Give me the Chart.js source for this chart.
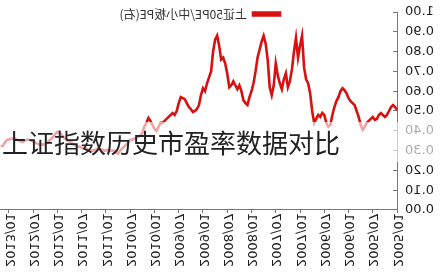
<!DOCTYPE html>
<html>
<head>
<meta charset="utf-8">
<script src="https://cdn.jsdelivr.net/npm/chart.js@4.4.0/dist/chart.umd.min.js"></script>
<style>
  html, body { margin: 0; padding: 0; background: #fff; }
  #wrap { position: relative; width: 446px; height: 273px; overflow: hidden; }
  /* the reference picture is a mirrored copy of the chart */
  #c { display: block; transform: scaleX(-1); }
  #band { position: absolute; left: 0; top: 122px; width: 446px; height: 40px; background: rgba(255,255,255,0.62); }
  #title { position: absolute; left: 2px; top: 122px; height: 40px; line-height: 40px;
           font-family: "Noto Sans CJK SC"; font-size: 26px; color: #222; white-space: nowrap; }
</style>
</head>
<body>
<div id="wrap">
  <canvas id="c" width="446" height="273"></canvas>
  <div id="band"></div>
  <div id="title">上证指数历史市盈率数据对比</div>
</div>
<script>
// 上证50PE/中小板PE, one value every half month from 2005/01
const peRatio = [
  0.505, 0.52, 0.53, 0.52, 0.50, 0.48, 0.47, 0.48, 0.49, 0.48,
  0.46, 0.455, 0.47, 0.46, 0.45, 0.44, 0.42, 0.405, 0.43, 0.47,
  0.50, 0.53, 0.54, 0.55, 0.565, 0.59, 0.605, 0.615, 0.60, 0.57,
  0.55, 0.52, 0.48, 0.43, 0.42, 0.44, 0.48, 0.49, 0.47, 0.48,
  0.46, 0.44, 0.50, 0.59, 0.64, 0.66, 0.72, 0.88, 0.83, 0.77,
  0.87, 0.80, 0.71, 0.65, 0.62, 0.69, 0.66, 0.61, 0.64, 0.68,
  0.74, 0.63, 0.58, 0.62, 0.76, 0.84, 0.88, 0.85, 0.81, 0.77,
  0.70, 0.64, 0.60, 0.57, 0.53, 0.54, 0.555, 0.60, 0.63, 0.61,
  0.63, 0.65, 0.63, 0.62, 0.69, 0.74, 0.77, 0.76, 0.83, 0.88,
  0.86, 0.80, 0.70, 0.67, 0.64, 0.60, 0.615, 0.58, 0.53, 0.51,
  0.50, 0.495, 0.51, 0.52, 0.54, 0.56, 0.565, 0.57, 0.54, 0.50,
  0.48, 0.49, 0.48, 0.47, 0.46, 0.45, 0.44, 0.44, 0.42, 0.40,
  0.41, 0.43, 0.45, 0.465, 0.44, 0.42, 0.39, 0.375, 0.37, 0.365,
  0.36, 0.355, 0.355, 0.34, 0.33, 0.32, 0.31, 0.30, 0.285, 0.29,
  0.30, 0.30, 0.30, 0.305, 0.30, 0.30, 0.305, 0.31, 0.31, 0.305,
  0.30, 0.30, 0.30, 0.305, 0.31, 0.31, 0.315, 0.32, 0.32, 0.325,
  0.33, 0.34, 0.345, 0.35, 0.36, 0.37, 0.38, 0.39, 0.395, 0.385,
  0.37, 0.36, 0.35, 0.34, 0.335, 0.33, 0.33, 0.33, 0.335, 0.34,
  0.345, 0.35, 0.355, 0.355, 0.35, 0.345, 0.345, 0.35, 0.355, 0.36,
  0.36, 0.36, 0.355, 0.355, 0.34, 0.325, 0.32
];

// x ticks, in months after 2005/01
const xTickMonths = [0, 6, 12, 18, 24, 30, 36, 42, 48, 54, 60, 66, 72, 78, 84, 90, 96];
const xTickLabels = ["2005/01", "2005/07", "2006/01", "2006/07", "2007/01", "2007/07",
  "2008/01", "2008/07", "2009/01", "2009/07", "2010/01", "2010/07", "2011/01",
  "2011/07", "2012/01", "2012/07", "2013/01"];

const seriesName = "上证50PE/中小板PE(右)";

const points = peRatio.map((v, i) => ({ x: i / 2, y: v }));

// legend sits inside the plot near the top, put it where the original has it
const placeLegend = {
  id: "placeLegend",
  afterLayout(chart) {
    const lg = chart.legend;
    const w = lg.right - lg.left, h = lg.bottom - lg.top;
    lg.left = 156; lg.right = 156 + w;
    lg.top = -2; lg.bottom = -2 + h;
  }
};

const tickFont = { family: "'DejaVu Sans'", size: 13 };

new Chart(document.getElementById("c"), {
  type: "line",
  data: {
    datasets: [{
      label: seriesName,
      data: points,
      borderColor: "#d81010",
      backgroundColor: "#d81010",
      borderWidth: 2.6,
      pointRadius: 0,
      tension: 0,
      fill: false
    }]
  },
  options: {
    responsive: false,
    animation: false,
    devicePixelRatio: 1,
    layout: { padding: { left: 0, right: 0, top: 12, bottom: 6 } },
    plugins: {
      legend: {
        position: "chartArea",
        align: "start",
        labels: {
          boxWidth: 27,
          boxHeight: 3,
          padding: 10,
          color: "#333",
          font: { family: "'Noto Sans CJK SC'", size: 12 }
        }
      },
      tooltip: { enabled: false }
    },
    scales: {
      x: {
        type: "linear",
        min: 0,
        max: 98.2,
        afterBuildTicks: (s) => { s.ticks = xTickMonths.map((v) => ({ value: v })); },
        afterFit: (s) => { s.paddingRight = 0; },
        grid: { drawOnChartArea: false, tickLength: 3, color: "#777" },
        border: { color: "#777" },
        ticks: {
          autoSkip: false,
          minRotation: 90,
          maxRotation: 90,
          padding: 0,
          color: "#222",
          font: tickFont,
          callback: (v, i) => xTickLabels[i]
        }
      },
      y: {
        min: 0,
        max: 1,
        // tick padding would otherwise push the plot top down
        afterFit: (s) => { s.paddingTop = 6; s.paddingBottom = 6; },
        grid: { drawOnChartArea: false, tickLength: -4, color: "#777" },
        border: { color: "#777" },
        ticks: {
          stepSize: 0.1,
          padding: 12,
          color: "#222",
          font: tickFont,
          callback: (v) => v.toFixed(2)
        }
      }
    }
  },
  plugins: [placeLegend]
});
</script>
</body>
</html>
